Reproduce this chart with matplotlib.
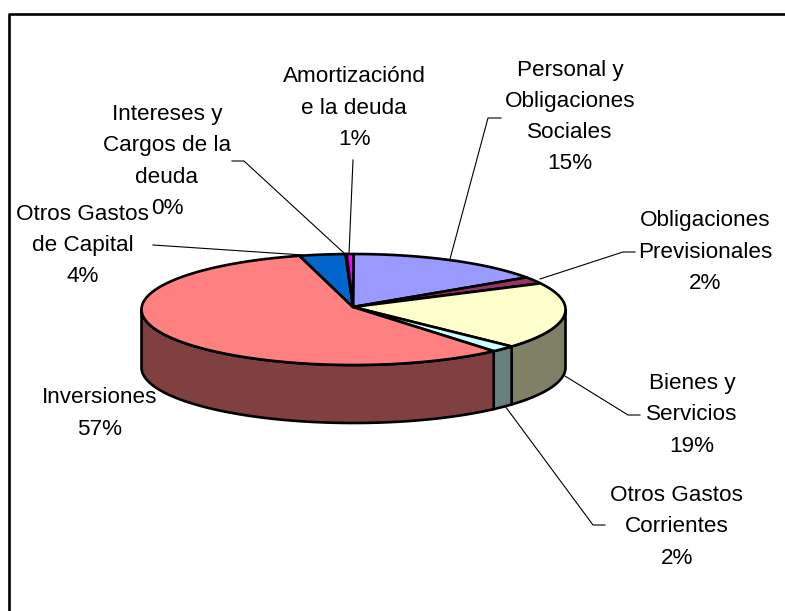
import numpy as np
import matplotlib
matplotlib.use("Agg")
import matplotlib.pyplot as plt

labels = ["Personal y\nObligaciones\nSociales\n15%", "Obligaciones\nPrevisionales\n2%",
          "Bienes y\nServicios\n19%", "Otros Gastos\nCorrientes\n2%", "Inversiones\n57%",
          "Otros Gastos\nde Capital\n4%", "Intereses y\nCargos de la\ndeuda\n0%",
          "Amortizaciónd\ne la deuda\n1%"]
values = [15.2, 2.0, 19.4, 1.9, 57.4, 3.5, 0.1, 0.5]
top_colors = ["#9999FF", "#993366", "#FFFFCC", "#CCFFFF", "#FF8080", "#0066CC", "#CCCCFF", "#FF00FF"]
side_colors = ["#6B6BB3", "#6B2447", "#808066", "#668080", "#804040", "#003366", "#666680", "#800080"]
label_pos = [(570, 117), (705, 252), (692, 415), (677, 527), (100, 413.5), (83, 245.5), (167, 161.5), (354, 108)]
leader_pts = [[(501, 118), (488, 118), (450, 259)], [(635, 252), (623, 252), (540, 279)],
              [(640, 415), (628, 415), (565, 376)], [(605, 525), (593, 525), (505, 406)], None,
              [(153, 245), (303, 255)], [(232, 161), (244, 161), (345, 254)],
              [(353, 160), (349, 254)]]

cx, cy, rx, ry, depth = 353.5, 309.5, 212, 55.5, 58
apex = (353, 307)


def rim(a0, a1):
    t = np.radians(np.linspace(a0, a1, 200))
    return cx + rx * np.sin(t), cy - ry * np.cos(t)


fig = plt.figure(figsize=(7.85, 6.11), dpi=100)
ax = fig.add_axes([0, 0, 1, 1])
ax.set_xlim(0, 785)
ax.set_ylim(611, 0)
ax.axis("off")

# chart frame, only top and left are inside the picture
ax.plot([8.7, 8.7, 785], [611, 14, 14], color="black", lw=1.9)

edges = np.concatenate([[0], np.cumsum(values)]) * 360 / np.sum(values)

# front wall, only the part of each slice that faces the viewer
for i in range(len(values)):
    a0, a1 = max(edges[i], 90), min(edges[i + 1], 270)
    if a1 <= a0:
        continue
    x, y = rim(a0, a1)
    ax.fill(np.r_[x, x[::-1]], np.r_[y, y[::-1] + depth], facecolor=side_colors[i],
            edgecolor="black", lw=1.9, joinstyle="round")

# top face
for i in range(len(values)):
    x, y = rim(edges[i], edges[i + 1])
    ax.fill(np.r_[apex[0], x], np.r_[apex[1], y], facecolor=top_colors[i], edgecolor="black", lw=1.9,
            joinstyle="round")

for pts in leader_pts:
    if pts:
        ax.plot([p[0] for p in pts], [p[1] for p in pts], color="black", lw=0.8)

for text, (lx, ly) in zip(labels, label_pos):
    ax.text(lx, ly, text, ha="center", va="center", fontsize=16.2, family="Liberation Sans",
            linespacing=1.64, color="black")

fig.savefig("out.png", dpi=100)
